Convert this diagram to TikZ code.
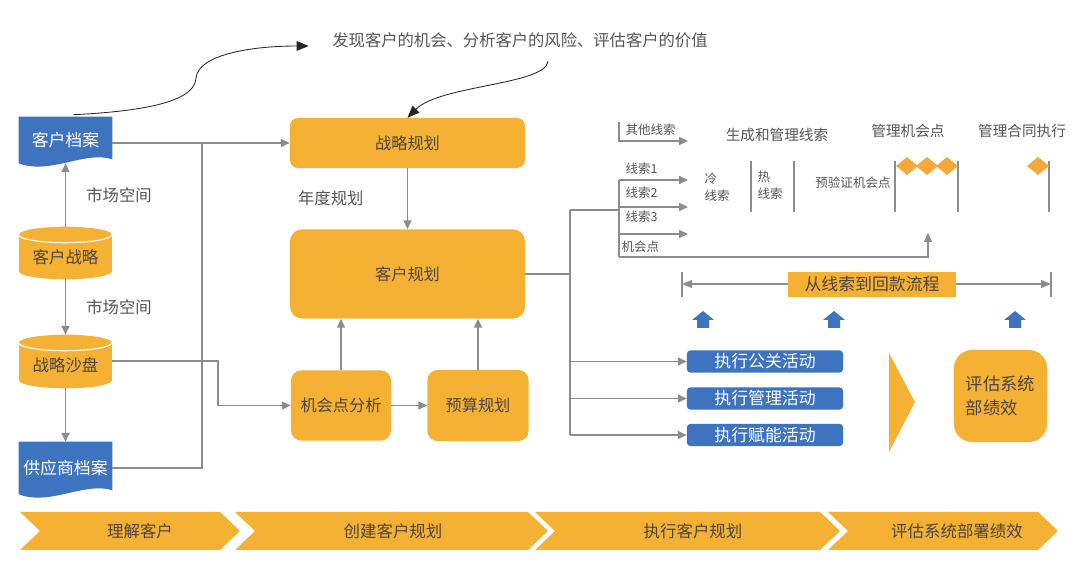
\documentclass[tikz,border=0pt]{standalone}
\usepackage{fontspec}
\setmainfont{Noto Sans CJK SC}
\usetikzlibrary{arrows.meta,calc,backgrounds}
\definecolor{boxorange}{HTML}{F4B134}
\definecolor{docblue}{HTML}{3D73BF}
\definecolor{linegray}{HTML}{8C8C8C}
\definecolor{textgray}{HTML}{555555}
\definecolor{textdark}{HTML}{4A4540}
\definecolor{diamorange}{HTML}{F6A93B}
\tikzset{
  arr/.style={draw=linegray,line width=1pt,-{Triangle[length=2.2mm,width=2mm]}},
  ln/.style={draw=linegray,line width=1pt},
  notearr/.style={draw=black!85,line width=0.6pt,-{Triangle[length=3mm,width=2.4mm]}},
  lbl/.style={text=textgray,inner sep=1pt,font=\fontsize{11.6}{14}\selectfont},
  smalllbl/.style={text=textgray,inner sep=1pt,font=\fontsize{8.9}{12}\selectfont},
  hdr/.style={text=textgray,inner sep=1pt,font=\fontsize{10.4}{13}\selectfont},
  orangebox/.style={fill=boxorange,text=textdark,inner sep=1pt,rounded corners=0.2cm,font=\fontsize{11.5}{14}\selectfont},
  bluebox/.style={fill=docblue,text=white,minimum width=3.9cm,minimum height=0.55cm,rounded corners=0.08cm,inner sep=0pt,font=\fontsize{12}{14}\selectfont},
  docbox/.style={text=white,minimum width=2.325cm,inner sep=0pt,font=\fontsize{12}{14}\selectfont},
  cylbox/.style={text=textdark,minimum width=2.325cm,inner sep=0pt,font=\fontsize{11.7}{14}\selectfont},
  stagetxt/.style={text=textdark,inner sep=0pt,font=\fontsize{11.7}{14}\selectfont},
  divline/.style={draw=linegray,line width=1pt},
}
\begin{document}
\begin{tikzpicture}[x=0.025cm,y=-0.025cm]
\useasboundingbox (0,0) rectangle (1080,576);

% note at the top
\node[lbl] (note) at (520,40) {发现客户的机会、分析客户的风险、评估客户的价值};

% left column
\node[docbox,minimum height=1.15cm] (khda) at (65.5,140) {客户档案};
\node[cylbox,minimum height=1.1cm] (khzl) at (65.5,257) {客户战略};
\node[cylbox,minimum height=1.125cm] (zlsp) at (65.5,365.5) {战略沙盘};
\node[docbox,minimum height=1.3cm] (gysda) at (65.5,468) {供应商档案};

\begin{scope}[on background layer]
  \foreach \n in {khda,gysda}
    \fill[docblue] (\n.north west) -- (\n.north east) -- ($(\n.south east)+(0,-4)$)
      .. controls ($(\n.south east)+(-27,-13)$) and ($(\n.south west)+(31,12)$) .. (\n.south west) -- cycle;
  \foreach \n in {khzl,zlsp} {
    \fill[boxorange] (\n.north west) rectangle ($(\n.south east)+(0,-8)$);
    \fill[boxorange] ($(\n.south)+(0,-8)$) ellipse (1.1625cm and 0.2cm);
    \fill[boxorange] (\n.north) ellipse (1.1625cm and 0.2cm);
    \draw[white,line width=0.8pt] (\n.north west) arc[start angle=180,end angle=360,x radius=1.1625cm,y radius=0.2cm];
  }
\end{scope}

\draw[arr] ($(khzl.north)+(0,-8)$) -- node[lbl,midway,right=0.47cm] (sckj1) {市场空间} (khda.south);
\draw[arr] (khzl.south) -- node[lbl,midway,right=0.47cm] (sckj2) {市场空间} ($(zlsp.north)+(0,-8)$);
\draw[arr] (zlsp.south) -- (gysda.north);

% planning boxes
\node[orangebox,minimum width=5.875cm,minimum height=1.25cm] (zlgh) at (407.5,143) {战略规划};
\node[orangebox,minimum width=5.875cm,minimum height=2.225cm,rounded corners=0.3cm] (khgh) at (407.5,274) {客户规划};
\node[orangebox,minimum width=2.5cm,minimum height=1.75cm,rounded corners=0.25cm] (jhdfx) at (341,405.5) {机会点分析};
\node[orangebox,minimum width=2.525cm,minimum height=1.775cm,rounded corners=0.25cm] (ysgh) at (478,405.5) {预算规划};

\coordinate (jn1) at (202,143);
\coordinate (jn2) at (218,361);
\draw[arr] (khda.east |- zlgh.west) -- (zlgh.west);
\draw[ln] (gysda.east) -| (jn1);
\draw[arr] (zlsp.east |- jn2) -- (jn2) |- (jhdfx.west);
\draw[arr] (zlgh.south) -- node[lbl,left=1.05cm] (ndgh) {年度规划} (khgh.north);
\draw[arr] (jhdfx.north) -- (jhdfx.north |- khgh.south);
\draw[arr] (ysgh.north) -- (ysgh.north |- khgh.south);
\draw[arr] (jhdfx.east) -- (ysgh.west);

% curved notes
\draw[notearr] ($(khda.north)+(8,-2)$) .. controls (170,110) and (195,95) .. (196,78)
  .. controls (198,55) and (250,46) .. ($(note.west)+(-22,6)$);
\draw[notearr] ($(note.south)+(28,12)$) .. controls (545,85) and (440,85) .. (zlgh.north);

% lead funnel
\coordinate (tt) at (570,210);
\coordinate (lt) at (619,180);
\coordinate (lb) at (619,257);
\coordinate (qt) at (619,122);
\coordinate (qe) at (688,141);
\coordinate (mg) at (928,233);
\draw[ln] (khgh.east) -- (khgh.east -| tt);
\draw[ln] (tt) -- (tt -| lt);
\draw[ln] (lt) -- (lb);
\foreach \yy in {180,207,234}
  \draw[arr] (619,\yy) -- (688,\yy);
\draw[arr] (lb) -| (mg);
\draw[arr] (qt) |- (qe);

\node[smalllbl,anchor=west] (qtxs) at (624,130) {其他线索};
\node[smalllbl,anchor=west] (xs1) at (624,169) {线索1};
\node[smalllbl,anchor=west] (xs2) at (624,193) {线索2};
\node[smalllbl,anchor=west] (xs3) at (624,217) {线索3};
\node[smalllbl,anchor=west] (jhd) at (620,247) {机会点};
\node[hdr] (scgl) at (777,135) {生成和管理线索};
\node[hdr] (gljhd) at (908,131) {管理机会点};
\node[hdr] (glht) at (1022,131) {管理合同执行};
\node[smalllbl,anchor=west,align=left] (lengxs) at (703,187) {冷\\线索};
\node[smalllbl,anchor=west,align=left] (rexs) at (756,185) {热\\线索};
\node[smalllbl] (yyz) at (853,183) {预验证机会点};

\foreach \xx in {751,794,895,958,1049}
  \draw[divline] (\xx,161) -- (\xx,212);
\foreach \xx in {907,927,947,1038}
  \fill[diamorange] ({\xx-11},166) -- (\xx,157) -- ({\xx+11},166) -- (\xx,175) -- cycle;

% lead to cash bar
\coordinate (rl) at (682,284);
\coordinate (rr) at (1051,284);
\draw[ln,{Triangle[length=2.5mm,width=2mm]}-{Triangle[length=2.5mm,width=2mm]}] (rl) -- (rr);
\draw[ln] ($(rl)+(0,-12)$) -- ($(rl)+(0,13)$);
\draw[ln] ($(rr)+(0,-12)$) -- ($(rr)+(0,13)$);
\node[fill=boxorange,text=textdark,inner sep=0pt,minimum width=4.175cm,minimum height=0.625cm,font=\fontsize{12}{14}\selectfont] (xsdhk) at (872,284.5) {从线索到回款流程};

\foreach \xx in {703,834,1015}
  \fill[docblue] ({\xx-11},320) -- (\xx,311) -- ({\xx+11},320) -- ({\xx+6},320)
    -- ({\xx+6},328) -- ({\xx-6},328) -- ({\xx-6},320) -- cycle;

% activities
\node[bluebox] (zxgg) at (765,361.5) {执行公关活动};
\node[bluebox] (zxgl) at (765,398.5) {执行管理活动};
\node[bluebox] (zxfn) at (765,435) {执行赋能活动};
\draw[ln] (tt) -- (tt |- zxfn.west);
\foreach \n in {zxgg,zxgl,zxfn}
  \draw[arr] (tt |- \n.west) -- (\n.west);

\fill[boxorange] (889,353) -- (915,402) -- (889,452) -- cycle;
\node[orangebox,minimum width=2.325cm,minimum height=2.3cm,rounded corners=0.45cm,align=left,font=\fontsize{12.3}{17}\selectfont] (pgxt) at (1000.5,396) {评估系统\\部绩效};

% stages
\foreach \l/\r/\tx/\lab [count=\i] in {20/220/140/理解客户,235/528/393/创建客户规划,535/820/693/执行客户规划,828/1038/957/评估系统部署绩效} {
  \fill[boxorange] (\l,512) -- (\r,512) -- ({\r+20},531) -- (\r,550) -- (\l,550) -- ({\l+20},531) -- cycle;
  \node[stagetxt] (stage\i) at (\tx,531) {\lab};
}

\end{tikzpicture}
\end{document}
